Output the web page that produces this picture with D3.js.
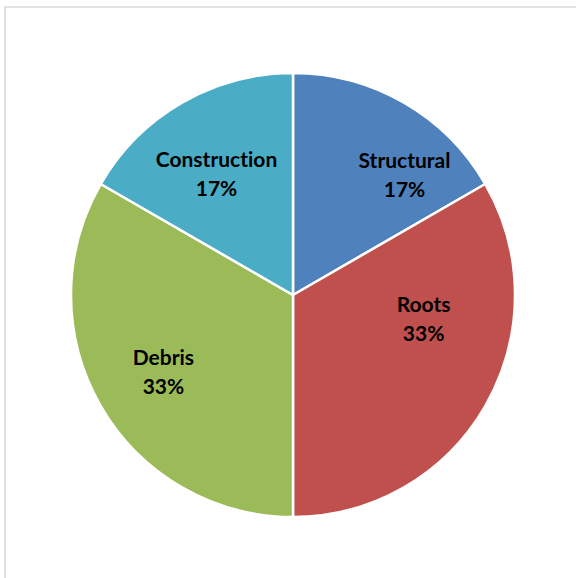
<!DOCTYPE html>
<html><head><meta charset="utf-8">
<script src="https://cdn.jsdelivr.net/npm/d3@7"></script>
<style>html,body{margin:0;padding:0;background:#fff;}svg{display:block;}</style>
</head><body>
<script>
const categories = ["Structural", "Roots", "Debris", "Construction"];
const values = [1, 2, 2, 1];
const percentLabels = ["17%", "33%", "33%", "17%"];
const colors = ["#4F81BD", "#C0504D", "#9BBB59", "#4BACC6"];

const W = 576, H = 578;
const svg = d3.select("body").append("svg").attr("width", W).attr("height", H);
svg.append("rect").attr("x", 5).attr("y", 7).attr("width", W + 10).attr("height", H + 10)
  .attr("fill", "#fff").attr("stroke", "#d9d9d9").attr("stroke-width", 1.5);

const cx = 293, cy = 295, R = 222;
const g = svg.append("g").attr("transform", `translate(${cx},${cy})`);
const data = categories.map((c, i) => ({ name: c, value: values[i], pct: percentLabels[i], color: colors[i] }));
const pie = d3.pie().value(d => d.value).sort(null);
const arc = d3.arc().innerRadius(0).outerRadius(R);
const labelArc = d3.arc().innerRadius(145).outerRadius(145);
const arcs = pie(data);

g.selectAll("path").data(arcs).join("path")
  .attr("d", arc).attr("fill", d => d.data.color)
  .attr("stroke", "#fff").attr("stroke-width", 2.5).attr("stroke-linejoin", "round");

// Excel-like "best fit" nudges for label placement
const nudge = { "Structural": [39, 3], "Roots": [5, -52], "Debris": [-4, 1], "Construction": [-4, 2] };
const lbl = g.selectAll("text").data(arcs).join("text")
  .attr("transform", d => { const c = labelArc.centroid(d); const n = nudge[d.data.name]; return `translate(${c[0] + n[0]},${c[1] + n[1]})`; })
  .attr("text-anchor", "middle")
  .style("font-family", "Lato, 'Open Sans', sans-serif").style("font-weight", "bold").style("font-size", "21px")
  .style("font-variant-ligatures", "none").style("font-feature-settings", "'liga' 0")
  .attr("fill", "#000");
lbl.append("tspan").attr("x", 0).attr("dy", -4).text(d => d.data.name);
lbl.append("tspan").attr("x", 0).attr("dy", 29).text(d => d.data.pct);
</script>
</body></html>
